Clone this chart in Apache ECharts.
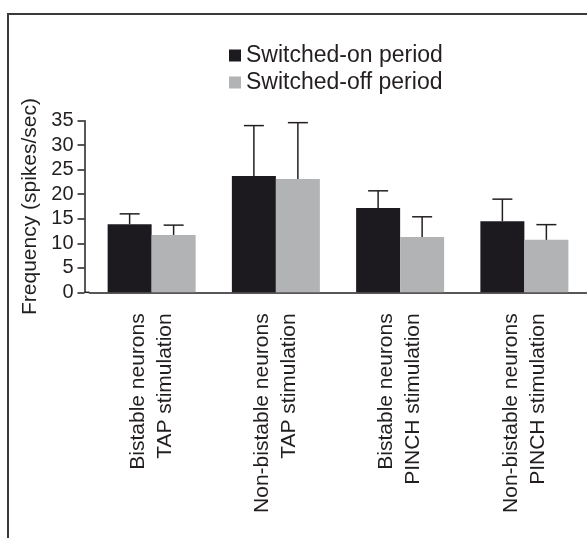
<!DOCTYPE html>
<html>
<head>
<meta charset="utf-8">
<script src="https://cdn.jsdelivr.net/npm/echarts@6/dist/echarts.min.js"></script>
<style>
html,body{margin:0;padding:0;background:#fff;}
#c{width:587px;height:538px;}
</style>
</head>
<body>
<div id="c"></div>
<script>
const categories = [
  "Bistable neurons\nTAP stimulation",
  "Non-bistable neurons\nTAP stimulation",
  "Bistable neurons\nPINCH stimulation",
  "Non-bistable neurons\nPINCH stimulation"
];
const seriesNames = ["Switched-on period", "Switched-off period"];
const onMean = [13.9, 23.7, 17.2, 14.5];
const onErr = [2.1, 10.3, 3.5, 4.5];
const offMean = [11.7, 23.1, 11.3, 10.7];
const offErr = [2.0, 11.5, 4.1, 3.1];
const yTicks = [0, 5, 10, 15, 20, 25, 30, 35];

const FONT = '"Liberation Sans", Arial, Helvetica, sans-serif';
const BAR_W = 44;
const TXT = '#231f20';
const GRID_LEFT = 89.5;
const Y_OFFSET = 5;

function errSeries(means, errs, side) {
  const data = means.map((m, i) => [i, m, m + errs[i]]);
  return {
    type: 'custom',
    z: 10,
    silent: true,
    data: data,
    renderItem: function (params, api) {
      const i = api.value(0);
      const p0 = api.coord([i, api.value(1)]);
      const p1 = api.coord([i, api.value(2)]);
      const x = p0[0] + side * BAR_W / 2;
      const capHalf = 10;
      return {
        type: 'group',
        children: [
          { type: 'line', shape: { x1: x, y1: p0[1], x2: x, y2: p1[1] }, style: { stroke: TXT, lineWidth: 1.5 } },
          { type: 'line', shape: { x1: x - capHalf, y1: p1[1], x2: x + capHalf, y2: p1[1] }, style: { stroke: TXT, lineWidth: 1.5 } }
        ]
      };
    }
  };
}

const chart = echarts.init(document.getElementById('c'), null, { renderer: 'canvas' });
chart.setOption({
  animation: false,
  backgroundColor: '#fff',
  textStyle: { fontFamily: FONT },
  legend: {
    data: seriesNames,
    orient: 'vertical',
    left: 224,
    top: 39,
    itemWidth: 12,
    itemHeight: 12,
    itemGap: 4,
    icon: 'rect',
    textStyle: { fontSize: 23, color: TXT, fontFamily: FONT }
  },
  grid: { left: GRID_LEFT, right: 0.5, top: 120.7, bottom: 245.7, containLabel: false },
  xAxis: {
    type: 'category',
    data: categories,
    axisTick: { show: false },
    axisLine: { lineStyle: { color: TXT, width: 1.5 } },
    axisLabel: {
      rotate: 90,
      interval: 0,
      margin: 21,
      fontSize: 21,
      lineHeight: 27,
      color: TXT,
      fontFamily: FONT
    }
  },
  yAxis: {
    type: 'value',
    min: 0,
    max: 35,
    interval: 5,
    offset: Y_OFFSET,
    name: 'Frequency (spikes/sec)',
    nameLocation: 'middle',
    nameRotate: 90,
    nameGap: 41,
    nameTextStyle: { fontSize: 21, color: TXT, fontFamily: FONT },
    splitLine: { show: false },
    axisLine: { show: true, lineStyle: { color: TXT, width: 1.5 } },
    axisTick: { show: true, length: 7, lineStyle: { color: TXT, width: 1.5 } },
    axisLabel: { margin: 11, fontSize: 20, color: TXT, fontFamily: FONT,
      formatter: function (v) { return yTicks.indexOf(v) >= 0 ? String(v) : ''; } }
  },
  series: [
    { name: seriesNames[0], type: 'bar', data: onMean, barWidth: BAR_W, barGap: '0%', itemStyle: { color: '#1c1a1f' } },
    { name: seriesNames[1], type: 'bar', data: offMean, barWidth: BAR_W, barGap: '0%', itemStyle: { color: '#b2b3b5' } },
    errSeries(onMean, onErr, -1),
    errSeries(offMean, offErr, 1)
  ]
});

// frame lines and join between offset y axis and x axis
const y0 = chart.convertToPixel({ yAxisIndex: 0 }, 0);
chart.setOption({
  graphic: [
    { type: 'polyline', shape: { points: [[8, 538], [8, 14], [587, 14]] }, style: { stroke: '#3a3a3a', lineWidth: 2, fill: null } },
    { type: 'line', shape: { x1: GRID_LEFT - Y_OFFSET, y1: y0, x2: GRID_LEFT, y2: y0 }, style: { stroke: TXT, lineWidth: 1.5 } }
  ]
});
</script>
</body>
</html>
